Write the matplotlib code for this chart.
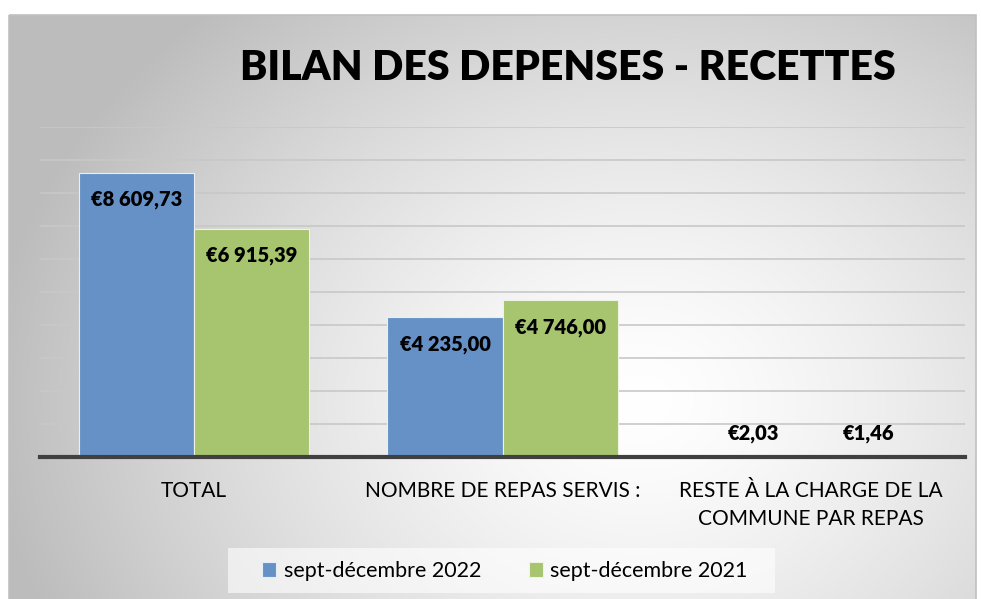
import numpy as np
import matplotlib.pyplot as plt
from matplotlib.patches import Rectangle

# ---- data ----
categories = ['TOTAL', 'NOMBRE DE REPAS SERVIS :', 'RESTE À LA CHARGE DE LA\nCOMMUNE PAR REPAS']
series_names = ['sept-décembre 2022', 'sept-décembre 2021']
values_2022 = [8609.73, 4235.00, 2.03]
values_2021 = [6915.39, 4746.00, 1.46]

blue = '#6691c7'
green = '#a7c46f'
W, H = 981, 599

plt.rcParams['font.family'] = ['Lato', 'DejaVu Sans']

fig = plt.figure(figsize=(W / 100, H / 100), dpi=100)

# background: radial grey -> white gradient inside a thin border
bg = fig.add_axes([0, 0, 1, 1], zorder=-10)
yy, xx = np.mgrid[0:H, 0:W]
r = np.sqrt(((xx - 640) / 650.0) ** 2 + ((yy - 400) / 520.0) ** 2)
shade = np.clip(1.0 - 0.26 * r ** 1.4, 0.74, 1.0)
img = np.dstack([shade] * 3)
img[:15, :] = 1.0
img[:, :9] = 1.0
img[:, 976:] = 1.0
bg.imshow(img, extent=[0, W, H, 0], aspect='auto', interpolation='bilinear')
bg.add_patch(Rectangle((9, 15), 967, 590, fill=False, edgecolor='#c0c0c0', lw=1.2))
# legend backing panel
bg.add_patch(Rectangle((228, 548), 547, 45, facecolor='white', alpha=0.6, edgecolor='none'))
bg.set_xlim(0, W)
bg.set_ylim(H, 0)
bg.axis('off')

# plot area
ax = fig.add_axes([40 / W, (H - 457) / H, 925 / W, 330 / H])
ax.patch.set_alpha(0)
x = np.arange(len(categories))
bw = 0.373
b1 = ax.bar(x - bw / 2, values_2022, bw, color=blue, edgecolor='#e8eef6', lw=0.8,
            label=series_names[0], zorder=3)
b2 = ax.bar(x + bw / 2, values_2021, bw, color=green, edgecolor='#eef3e4', lw=0.8,
            label=series_names[1], zorder=3)

def fmt(v):
    s = f'{v:,.2f}'.replace(',', ' ').replace('.', ',')
    return '€' + s

for bars, vals in ((b1, values_2022), (b2, values_2021)):
    for rect, v in zip(bars, vals):
        cx = rect.get_x() + rect.get_width() / 2
        off = -19.5 if v > 500 else 17
        ax.annotate(fmt(v), (cx, v), xytext=(0, off), textcoords='offset points',
                    ha='center', va='center', fontsize=14.5, fontweight='heavy', zorder=5)

ax.set_xlim(-0.5, len(categories) - 0.5)
ax.set_ylim(0, 10000)
ax.set_yticks(np.arange(1000, 10001, 1000))
ax.yaxis.grid(True, color='#c8c8c8', lw=1.2, zorder=0)
ax.tick_params(axis='y', left=False, labelleft=False)
ax.set_xticks(x)
ax.set_xticklabels(categories, fontsize=15, linespacing=1.5)
ax.tick_params(axis='x', length=0, pad=17)
for side in ('top', 'right', 'left'):
    ax.spines[side].set_visible(False)
ax.spines['bottom'].set_color('#404040')
ax.spines['bottom'].set_linewidth(3)
ax.spines['bottom'].set_zorder(4)

fig.text(568 / W, 1 - 68 / H, 'BILAN DES DEPENSES - RECETTES', ha='center', va='center',
         fontsize=29.5, fontweight='heavy')

leg = fig.legend(loc='center', bbox_to_anchor=(505 / W, 1 - 571 / H), ncol=2, frameon=False,
                 fontsize=15.5, handlelength=0.65, handleheight=0.65, handletextpad=0.35,
                 columnspacing=2.2, borderpad=0.6)

fig.savefig('out.png', dpi=100)
